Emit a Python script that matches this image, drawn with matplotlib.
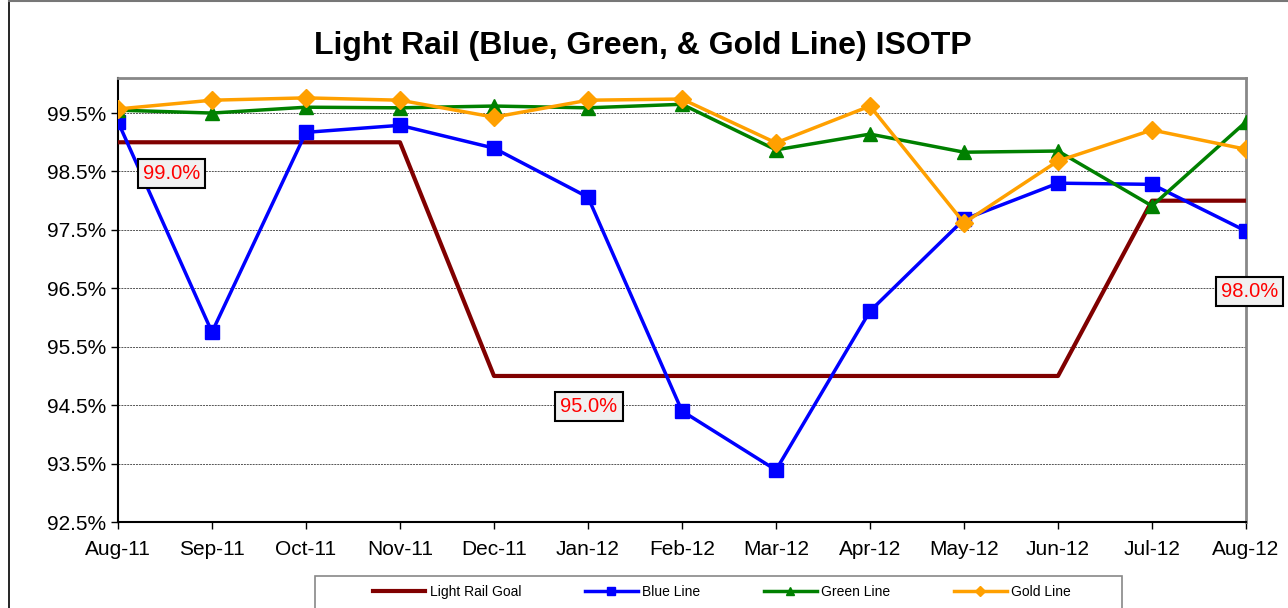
import matplotlib.pyplot as plt
from matplotlib.lines import Line2D
from matplotlib.patches import Rectangle
from matplotlib.ticker import FuncFormatter

months = ["Aug-11", "Sep-11", "Oct-11", "Nov-11", "Dec-11", "Jan-12", "Feb-12",
          "Mar-12", "Apr-12", "May-12", "Jun-12", "Jul-12", "Aug-12"]
goal = [99.0, 99.0, 99.0, 99.0, 95.0, 95.0, 95.0, 95.0, 95.0, 95.0, 95.0, 98.0, 98.0]
blue = [99.35, 95.75, 99.17, 99.29, 98.90, 98.06, 94.40, 93.39, 96.11, 97.68, 98.30, 98.28, 97.48]
green = [99.55, 99.50, 99.60, 99.59, 99.62, 99.59, 99.65, 98.87, 99.14, 98.83, 98.85, 97.91, 99.35]
gold = [99.57, 99.72, 99.76, 99.72, 99.43, 99.72, 99.74, 98.99, 99.62, 97.62, 98.68, 99.21, 98.88]

# goal labels: (x position, y position, text)
goal_labels = [(0.57, 98.46, "99.0%"), (5.01, 94.47, "95.0%"), (12.04, 96.45, "98.0%")]

plt.rcParams['font.family'] = ['Liberation Sans', 'DejaVu Sans']

fig = plt.figure(figsize=(12.88, 6.08), dpi=100)
ax = fig.add_axes([0.0916, 0.1414, 0.8758, 0.7303])

x = list(range(len(months)))
ax.plot(x, goal, color="#800000", lw=3, label="Light Rail Goal", zorder=3)
ax.plot(x, blue, color="#0000FF", lw=2.5, marker="s", ms=10, label="Blue Line", zorder=4)
ax.plot(x, green, color="#008000", lw=2.5, marker="^", ms=10, label="Green Line", zorder=5)
ax.plot(x, gold, color="#FFA000", lw=2.5, marker="D", ms=9, label="Gold Line", zorder=6)

for lx, ly, txt in goal_labels:
    ax.text(lx, ly, txt, color="red", fontsize=14.5, ha="center", va="center", zorder=8,
            bbox=dict(boxstyle="square,pad=0.25", facecolor="#F0F0F0", edgecolor="black", lw=1.5),
            clip_on=False)

ax.set_xlim(0, 12)
ax.set_ylim(92.5, 100.1)
ax.set_xticks(x)
ax.set_xticklabels(months)
ax.set_yticks([92.5, 93.5, 94.5, 95.5, 96.5, 97.5, 98.5, 99.5])
ax.yaxis.set_major_formatter(FuncFormatter(lambda v, p: "%.1f%%" % v))
ax.tick_params(labelsize=15, length=5, width=1, direction="out")
ax.tick_params(axis="x", pad=8)
ax.yaxis.grid(True, color="#555555", ls=(0, (2, 1)), lw=0.7)
ax.set_axisbelow(True)

ax.spines["left"].set_color("black")
ax.spines["bottom"].set_color("black")
ax.spines["left"].set_linewidth(1.5)
ax.spines["bottom"].set_linewidth(1.5)
ax.spines["top"].set_color("#888888")
ax.spines["right"].set_color("#888888")
ax.spines["top"].set_linewidth(2)
ax.spines["right"].set_linewidth(2)

fig.text(0.499, 0.925, "Light Rail (Blue, Green, & Gold Line) ISOTP",
         fontsize=23, fontweight="bold", ha="center", va="center")

# legend entries without frame, box drawn separately
leg = fig.legend(loc="center", bbox_to_anchor=(0.5602, 0.0263), ncol=4,
                 prop={"size": 10}, frameon=False,
                 handlelength=3.8, columnspacing=4.6, markerscale=0.6,
                 handletextpad=0.3)
fig.add_artist(Rectangle((315 / 1288, -0.01), 807 / 1288, 1 - 576 / 608 + 0.01,
                         transform=fig.transFigure, facecolor="none",
                         edgecolor="#888888", lw=1.2))

# outer chart border
fig.add_artist(Line2D([9 / 1288, 9 / 1288], [0, 1 - 1 / 608], color="black", lw=1.2))
fig.add_artist(Line2D([9 / 1288, 1], [1 - 1 / 608, 1 - 1 / 608], color="#777777", lw=1.5))

fig.savefig("out.png", dpi=100)
